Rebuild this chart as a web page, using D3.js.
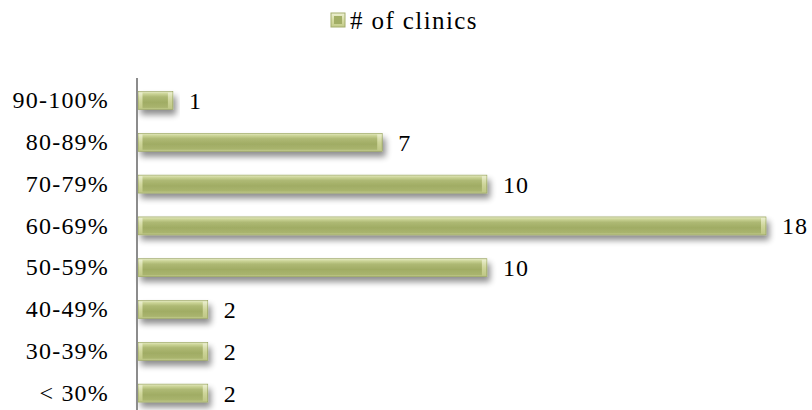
<!DOCTYPE html>
<html><head><meta charset="utf-8">
<script src="https://cdn.jsdelivr.net/npm/d3@7"></script>
<style>body{margin:0;background:#fff}svg{display:block}</style>
</head><body>
<script>
const categories = ["90-100%","80-89%","70-79%","60-69%","50-59%","40-49%","30-39%","< 30%"];
const values = [1,7,10,18,10,2,2,2];
const seriesName = "# of clinics";

const W=812,H=410;
const FONT="'Liberation Serif','Times New Roman',serif";
const svg=d3.select("body").append("svg").attr("width",W).attr("height",H);
const defs=svg.append("defs");
const g1=defs.append("linearGradient").attr("id","bodyG").attr("x1",0).attr("y1",0).attr("x2",0).attr("y2",1);
[[0,"#e6ebc6"],[0.12,"#ccd598"],[0.3,"#aeb974"],[0.6,"#a0ac64"],[0.88,"#a9b46e"],[1,"#c8d093"]].forEach(([o,c])=>g1.append("stop").attr("offset",o).attr("stop-color",c));
const g2=defs.append("linearGradient").attr("id","capG").attr("x1",0).attr("y1",0).attr("x2",0).attr("y2",1);
[[0,"#eef1d6"],[0.5,"#d6dca3"],[1,"#c3cb8a"]].forEach(([o,c])=>g2.append("stop").attr("offset",o).attr("stop-color",c));
const f=defs.append("filter").attr("id","shadow").attr("x","-10%").attr("y","-50%").attr("width","130%").attr("height","250%");
f.append("feGaussianBlur").attr("in","SourceAlpha").attr("stdDeviation",3);
f.append("feOffset").attr("dx",3).attr("dy",5).attr("result","b");
f.append("feComponentTransfer").append("feFuncA").attr("type","linear").attr("slope",0.45);
const fm=f.append("feMerge");fm.append("feMergeNode");fm.append("feMergeNode").attr("in","SourceGraphic");

const x=d3.scaleLinear().domain([0,18]).range([138,766]);
const y=d3.scaleBand().domain(categories).range([79.6,414]).paddingInner(0.57).paddingOuter(0.285);

const bars=svg.append("g").selectAll("g").data(categories).join("g");
bars.append("rect").attr("x",x(0)).attr("y",d=>y(d)).attr("width",(d,i)=>x(values[i])-x(0)).attr("height",y.bandwidth())
  .attr("fill","url(#bodyG)").attr("stroke","#929e58").attr("stroke-width",0.6).attr("filter","url(#shadow)");
bars.append("rect").attr("x",x(0)+0.5).attr("y",d=>y(d)+1).attr("width",4).attr("height",y.bandwidth()-2).attr("fill","url(#capG)").attr("opacity",0.9);
bars.append("rect").attr("x",(d,i)=>x(values[i])-5).attr("y",d=>y(d)+1).attr("width",4.5).attr("height",y.bandwidth()-2).attr("fill","url(#capG)").attr("opacity",0.85);

const yAxis=d3.axisLeft(y).tickSize(0).tickPadding(28);
const ag=svg.append("g").attr("transform","translate(137,0)").call(yAxis);
ag.select(".domain").attr("stroke","#8c8c8c").attr("stroke-width",2).attr("d","M0,78V410");
ag.selectAll("text").attr("font-family",FONT).attr("font-size",24).attr("letter-spacing",1.2).attr("fill","#000");

svg.append("g").selectAll("text").data(categories).join("text")
  .attr("x",(d,i)=>x(values[i])+16).attr("y",d=>y(d)+y.bandwidth()/2).attr("dy","0.35em")
  .attr("font-family",FONT).attr("font-size",24).attr("letter-spacing",1).attr("fill","#000")
  .text((d,i)=>values[i]);

const lg=svg.append("g");
lg.append("rect").attr("x",331).attr("y",13).attr("width",14).attr("height",14).attr("fill","url(#capG)").attr("stroke","#a3ad6c").attr("stroke-width",1);
lg.append("rect").attr("x",334).attr("y",16).attr("width",8).attr("height",8).attr("fill","#a2ae66");
lg.append("text").attr("x",350).attr("y",20).attr("dy","0.35em").attr("font-family",FONT).attr("font-size",25).attr("letter-spacing",1.4).attr("fill","#000").text(seriesName);
</script>
</body></html>
